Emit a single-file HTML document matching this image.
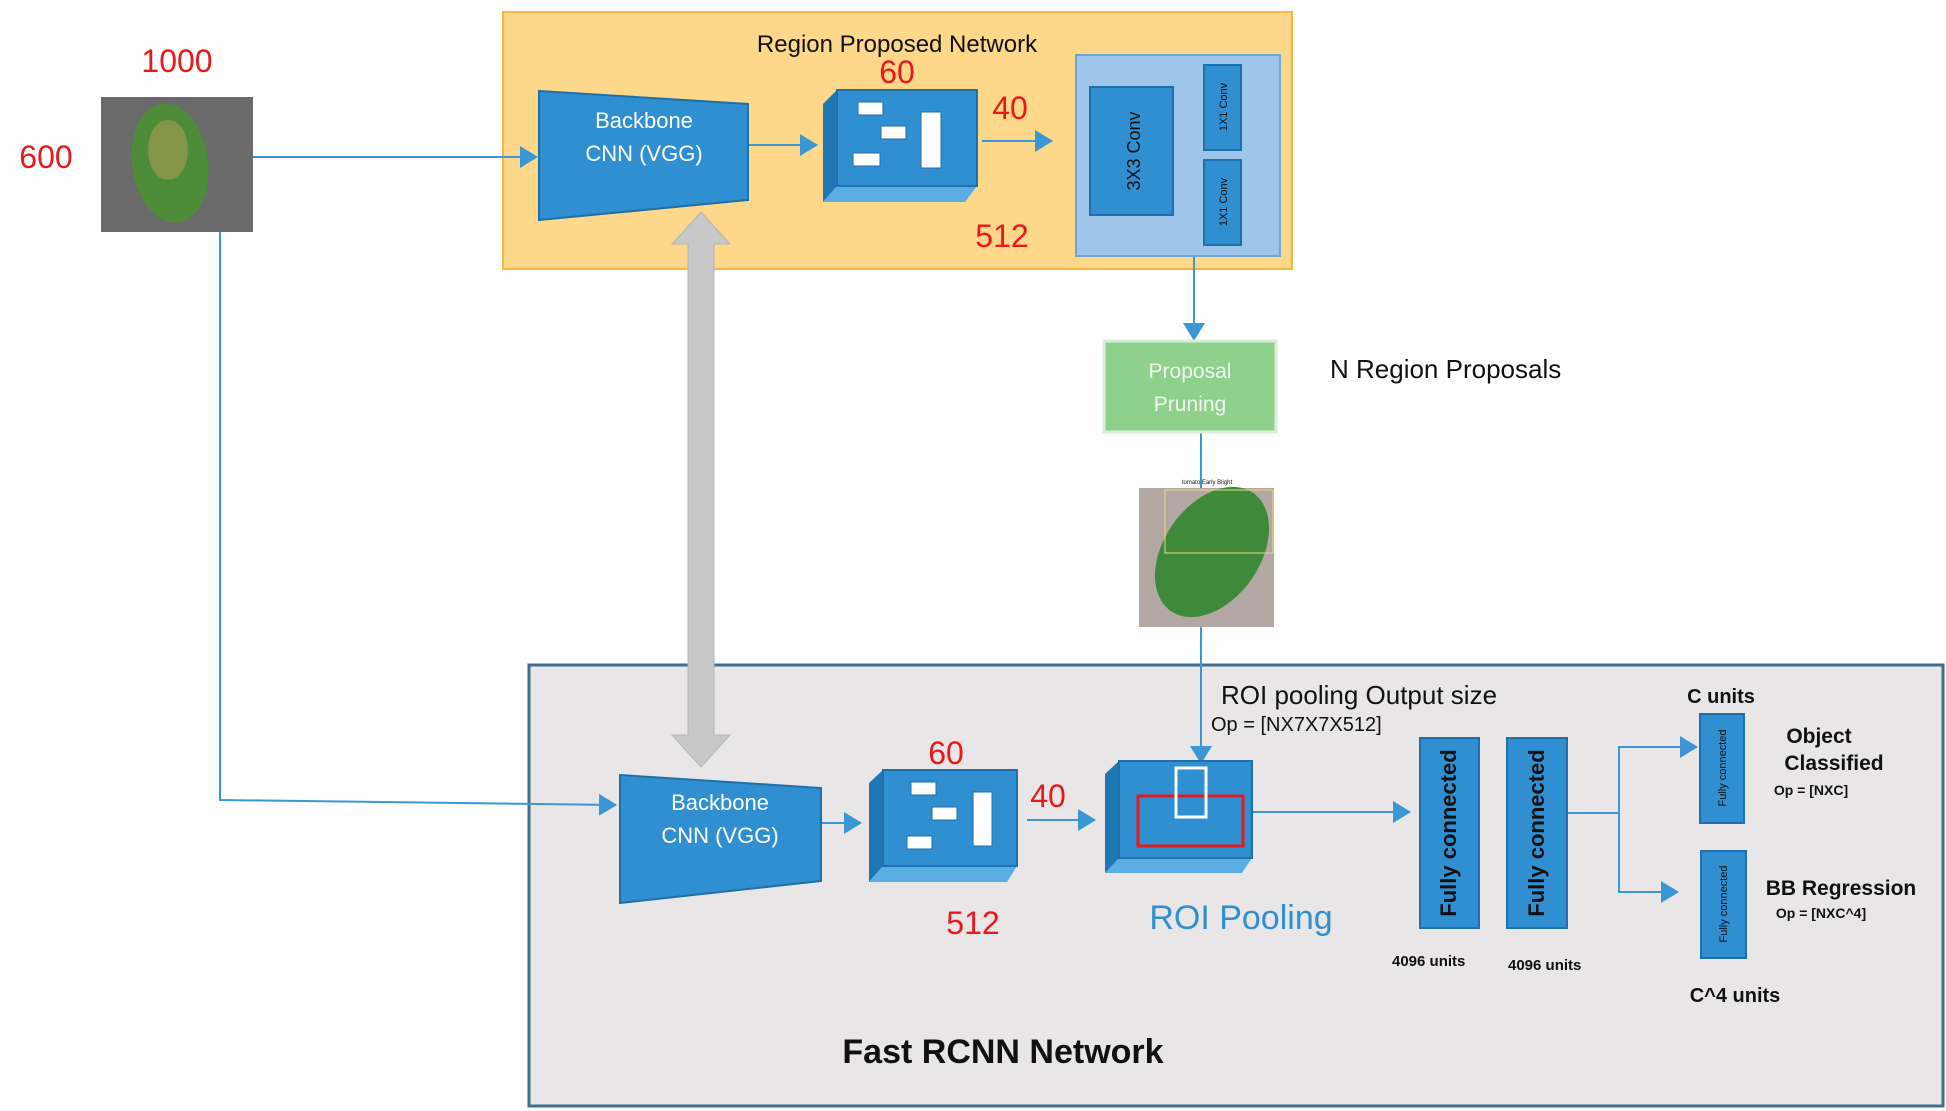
<!DOCTYPE html>
<html><head><meta charset="utf-8"><style>
html,body{margin:0;padding:0;background:#fff;}
svg{display:block;}
text{font-family:"Liberation Sans",sans-serif;}
</style></head><body>
<svg width="1946" height="1111" viewBox="0 0 1946 1111" xmlns="http://www.w3.org/2000/svg">
<defs>
<marker id="ah" markerWidth="10" markerHeight="10" refX="9" refY="5" orient="auto" markerUnits="userSpaceOnUse"><path d="M0,0 L10,5 L0,10 z" fill="#3b97d3"/></marker>
<marker id="ahb" markerWidth="18" markerHeight="22" refX="17" refY="11" orient="auto" markerUnits="userSpaceOnUse"><path d="M0,0 L18,11 L0,22 z" fill="#3b97d3"/></marker>
</defs>
<!-- orange RPN box -->
<rect x="503" y="12" width="789" height="257" fill="#fdd88a" stroke="#f5b942" stroke-width="2"/>
<text x="897" y="52" font-size="24" text-anchor="middle" fill="#111">Region Proposed Network</text>
<!-- bottom gray box -->
<rect x="529" y="665" width="1414" height="441" fill="#e8e6e7" stroke="#3f6f8f" stroke-width="3"/>
<text x="1003" y="1063" font-size="34" font-weight="bold" text-anchor="middle" fill="#111">Fast RCNN Network</text>

<!-- leaf 1 -->
<rect x="101" y="97" width="152" height="135" fill="#6a6a6a"/>
<ellipse cx="170" cy="163" rx="38" ry="60" fill="#4f8c3a" transform="rotate(-8 170 163)"/>
<ellipse cx="168" cy="150" rx="20" ry="30" fill="#a89b52" opacity="0.6"/>
<text x="177" y="72" font-size="32" fill="#e8181b" text-anchor="middle">1000</text>
<text x="46" y="168" font-size="32" fill="#e8181b" text-anchor="middle">600</text>

<!-- lines -->
<g stroke="#3b97d3" stroke-width="2" fill="none">
<line x1="253" y1="157" x2="537" y2="157" marker-end="url(#ahb)"/>
<polyline points="220,232 220,800 616,805" marker-end="url(#ahb)"/>
<line x1="748" y1="145" x2="817" y2="145" marker-end="url(#ahb)"/>
<line x1="982" y1="141" x2="1052" y2="141" marker-end="url(#ahb)"/>
<line x1="1194" y1="256" x2="1194" y2="340" marker-end="url(#ahb)"/>
<line x1="1201" y1="432" x2="1201" y2="488"/>
<line x1="1201" y1="627" x2="1201" y2="763" marker-end="url(#ahb)"/>
<line x1="802" y1="823" x2="861" y2="823" marker-end="url(#ahb)"/>
<line x1="1027" y1="820" x2="1095" y2="820" marker-end="url(#ahb)"/>
<line x1="1252" y1="812" x2="1410" y2="812" marker-end="url(#ahb)"/>
<polyline points="1567,813 1619,813"/>
<polyline points="1619,813 1619,747 1697,747" marker-end="url(#ahb)"/>
<polyline points="1619,813 1619,892 1678,892" marker-end="url(#ahb)"/>
</g>

<!-- gray double arrow -->
<polygon points="701,212 730,244 714,244 714,735 730,735 701,767 672,735 688,735 688,244 672,244" fill="#c8c8c8" stroke="#b5b5b5"/>

<!-- backbone 1 -->
<polygon points="539,91 748,104 748,200 539,220" fill="#2f8fd0" stroke="#1f6fa8" stroke-width="2"/>
<text x="644" y="128" font-size="22" fill="#fff" text-anchor="middle">Backbone</text>
<text x="644" y="161" font-size="22" fill="#fff" text-anchor="middle">CNN (VGG)</text>
<!-- cube 1 -->
<polygon points="823,104 837,90 837,186 823,202" fill="#1f76b4"/>
<polygon points="823,202 837,186 977,186 965,202" fill="#5aaee3"/>
<rect x="837" y="90" width="140" height="96" fill="#2f8fd0" stroke="#1f6fa8" stroke-width="2"/>
<g fill="#fff" stroke="#1f6fa8"><rect x="858" y="102" width="25" height="13"/><rect x="881" y="126" width="25" height="13"/><rect x="853" y="153" width="27" height="13"/><rect x="921" y="112" width="20" height="56"/></g>
<text x="897" y="83" font-size="32" fill="#e8181b" text-anchor="middle">60</text>
<text x="1010" y="119" font-size="32" fill="#e8181b" text-anchor="middle">40</text>
<text x="1002" y="247" font-size="32" fill="#e8181b" text-anchor="middle">512</text>
<!-- conv box -->
<rect x="1076" y="55" width="204" height="201" fill="#9dc6ea" stroke="#6fa6d6" stroke-width="2"/>
<rect x="1090" y="87" width="83" height="128" fill="#2f8fd0" stroke="#1f6fa8" stroke-width="2"/>
<text transform="translate(1140,151) rotate(-90)" font-size="18" text-anchor="middle" fill="#111">3X3 Conv</text>
<rect x="1204" y="65" width="37" height="85" fill="#2f8fd0" stroke="#1f6fa8" stroke-width="2"/>
<text transform="translate(1227,107) rotate(-90)" font-size="11" text-anchor="middle" fill="#111">1X1 Conv</text>
<rect x="1204" y="160" width="37" height="85" fill="#2f8fd0" stroke="#1f6fa8" stroke-width="2"/>
<text transform="translate(1227,202) rotate(-90)" font-size="11" text-anchor="middle" fill="#111">1X1 Conv</text>

<!-- proposal pruning -->
<rect x="1104" y="341" width="172" height="91" fill="#8fd18c" stroke="#d6efd5" stroke-width="3"/>
<text x="1190" y="378" font-size="21" fill="#f0f8ef" text-anchor="middle">Proposal</text>
<text x="1190" y="411" font-size="21" fill="#f0f8ef" text-anchor="middle">Pruning</text>
<text x="1330" y="378" font-size="26" fill="#111">N Region Proposals</text>

<!-- leaf 2 -->
<text x="1207" y="484" font-size="6" text-anchor="middle" fill="#111">tomato Early Blight</text>
<rect x="1139" y="488" width="135" height="139" fill="#b3a7a4"/>
<ellipse cx="1212" cy="552" rx="48" ry="72" fill="#3f8a3a" transform="rotate(35 1212 552)"/>
<rect x="1165" y="490" width="108" height="63" fill="none" stroke="#e8d97a" stroke-width="1"/>

<!-- bottom backbone -->
<polygon points="620,775 821,788 821,881 620,903" fill="#2f8fd0" stroke="#1f6fa8" stroke-width="2"/>
<text x="720" y="810" font-size="22" fill="#fff" text-anchor="middle">Backbone</text>
<text x="720" y="843" font-size="22" fill="#fff" text-anchor="middle">CNN (VGG)</text>
<!-- cube 2 -->
<polygon points="869,783 883,770 883,866 869,882" fill="#1f76b4"/>
<polygon points="869,882 883,866 1017,866 1007,882" fill="#5aaee3"/>
<rect x="883" y="770" width="134" height="96" fill="#2f8fd0" stroke="#1f6fa8" stroke-width="2"/>
<g fill="#fff" stroke="#1f6fa8"><rect x="911" y="782" width="25" height="13"/><rect x="932" y="807" width="25" height="13"/><rect x="907" y="836" width="25" height="13"/><rect x="973" y="792" width="19" height="54"/></g>
<text x="946" y="764" font-size="32" fill="#e8181b" text-anchor="middle">60</text>
<text x="1048" y="807" font-size="32" fill="#e8181b" text-anchor="middle">40</text>
<text x="973" y="934" font-size="32" fill="#e8181b" text-anchor="middle">512</text>
<!-- ROI cube -->
<polygon points="1105,774 1119,761 1119,858 1105,873" fill="#1f76b4"/>
<polygon points="1105,873 1119,858 1252,858 1242,873" fill="#5aaee3"/>
<rect x="1119" y="761" width="133" height="97" fill="#2f8fd0" stroke="#1f6fa8" stroke-width="2"/>
<rect x="1138" y="796" width="105" height="50" fill="none" stroke="#e8181b" stroke-width="3"/>
<rect x="1176" y="768" width="30" height="49" fill="none" stroke="#fff" stroke-width="3"/>
<text x="1241" y="929" font-size="34" fill="#2f8fd0" text-anchor="middle">ROI Pooling</text>
<text x="1221" y="704" font-size="26" fill="#111">ROI pooling Output size</text>
<text x="1211" y="731" font-size="20" fill="#111">Op = [NX7X7X512]</text>

<!-- FC layers -->
<rect x="1420" y="738" width="59" height="190" fill="#2f8fd0" stroke="#1f6fa8" stroke-width="2"/>
<text transform="translate(1456,833) rotate(-90)" font-size="22" font-weight="bold" text-anchor="middle" fill="#111">Fully connected</text>
<rect x="1507" y="738" width="60" height="190" fill="#2f8fd0" stroke="#1f6fa8" stroke-width="2"/>
<text transform="translate(1544,833) rotate(-90)" font-size="22" font-weight="bold" text-anchor="middle" fill="#111">Fully connected</text>
<text x="1392" y="966" font-size="15" font-weight="bold" fill="#111">4096 units</text>
<text x="1508" y="970" font-size="15" font-weight="bold" fill="#111">4096 units</text>

<rect x="1700" y="714" width="44" height="109" fill="#2f8fd0" stroke="#1f6fa8" stroke-width="2"/>
<text transform="translate(1726,768) rotate(-90)" font-size="11" text-anchor="middle" fill="#111">Fully connected</text>
<rect x="1701" y="851" width="45" height="107" fill="#2f8fd0" stroke="#1f6fa8" stroke-width="2"/>
<text transform="translate(1727,904) rotate(-90)" font-size="11" text-anchor="middle" fill="#111">Fully connected</text>

<text x="1721" y="703" font-size="20" font-weight="bold" text-anchor="middle" fill="#111">C units</text>
<text x="1819" y="743" font-size="21" font-weight="bold" text-anchor="middle" fill="#111">Object</text>
<text x="1834" y="770" font-size="21" font-weight="bold" text-anchor="middle" fill="#111">Classified</text>
<text x="1811" y="795" font-size="14" font-weight="bold" text-anchor="middle" fill="#111">Op = [NXC]</text>
<text x="1841" y="895" font-size="21" font-weight="bold" text-anchor="middle" fill="#111">BB Regression</text>
<text x="1821" y="918" font-size="14" font-weight="bold" text-anchor="middle" fill="#111">Op = [NXC^4]</text>
<text x="1735" y="1002" font-size="20" font-weight="bold" text-anchor="middle" fill="#111">C^4 units</text>
</svg>
</body></html>
